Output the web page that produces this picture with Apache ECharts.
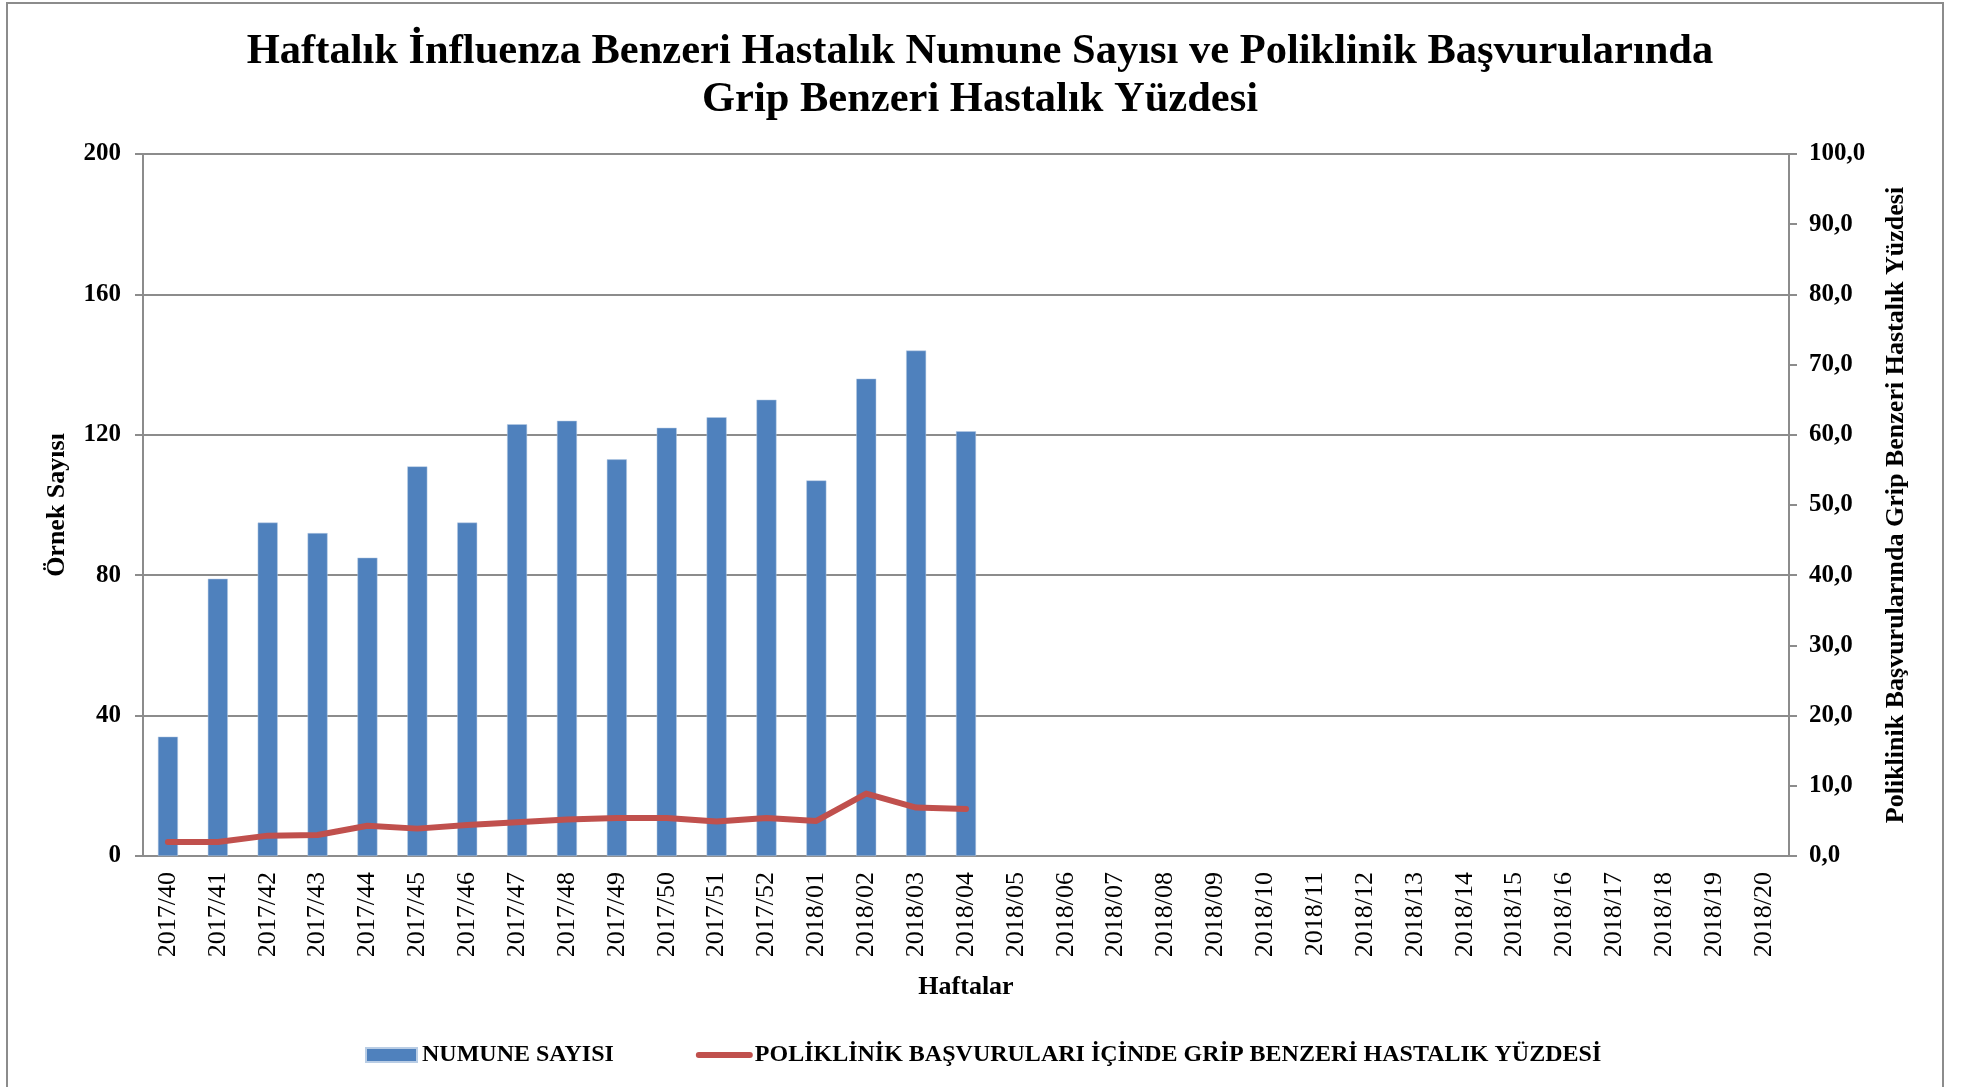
<!DOCTYPE html>
<html>
<head>
<meta charset="utf-8">
<script src="https://cdn.jsdelivr.net/npm/echarts@6/dist/echarts.min.js"></script>
<style>
  html, body { margin: 0; padding: 0; background: #fff; }
  #chart { width: 1966px; height: 1087px; }
</style>
</head>
<body>
<div id="chart"></div>
<script>
const weeks = [
    '2017/40', '2017/41', '2017/42', '2017/43', '2017/44', '2017/45', '2017/46',
    '2017/47', '2017/48', '2017/49', '2017/50', '2017/51', '2017/52',
    '2018/01', '2018/02', '2018/03', '2018/04', '2018/05', '2018/06', '2018/07',
    '2018/08', '2018/09', '2018/10', '2018/11', '2018/12', '2018/13', '2018/14',
    '2018/15', '2018/16', '2018/17', '2018/18', '2018/19', '2018/20'
];
// numune sayisi (sol eksen)
const sampleCounts = [34, 79, 95, 92, 85, 111, 95, 123, 124, 113, 122, 125, 130, 107, 136, 144, 121];
// GBH yuzdesi (sag eksen)
const ililPercent = [2.0, 2.0, 2.9, 3.0, 4.3, 3.9, 4.4, 4.8, 5.2, 5.4, 5.4, 4.9, 5.4, 5.0, 8.9, 6.9, 6.7];

const serif = "'Liberation Serif', 'Times New Roman', serif";
const gray = '#8c8c8c';

const chart = echarts.init(document.getElementById('chart'));
const option = {
    animation: false,
    title: {
        text: 'Haftalık İnfluenza Benzeri Hastalık Numune Sayısı ve Poliklinik Başvurularında\nGrip Benzeri Hastalık Yüzdesi',
        left: 975,
        textAlign: 'center',
        top: 23,
        textStyle: {
            fontFamily: serif,
            fontWeight: 'bold',
            fontSize: 42.5,
            lineHeight: 48,
            color: '#000'
        }
    },
    legend: {
        left: 360,
        top: 1038,
        itemGap: 82,
        itemWidth: 51,
        itemHeight: 14,
        textStyle: {
            fontFamily: serif,
            fontWeight: 'bold',
            fontSize: 24,
            color: '#000'
        },
        data: [
            { name: 'NUMUNE SAYISI', icon: 'rect' },
            {
                name: 'POLİKLİNİK BAŞVURULARI İÇİNDE GRİP BENZERİ HASTALIK YÜZDESİ',
                itemStyle: { opacity: 0 },
                lineStyle: { width: 6, cap: 'round' }
            }
        ]
    },
    grid: {
        left: 143,
        right: 1966 - 1789,
        top: 154,
        bottom: 1087 - 856
    },
    graphic: [{
        type: 'rect',
        shape: { x: 7, y: 3, width: 1936, height: 1100 },
        style: { fill: 'none', stroke: gray, lineWidth: 2 },
        silent: true
    }],
    xAxis: {
        type: 'category',
        data: weeks,
        name: 'Haftalar',
        nameLocation: 'middle',
        nameGap: 118,
        nameTextStyle: {
            fontFamily: serif,
            fontWeight: 'bold',
            fontSize: 26,
            color: '#000'
        },
        axisLine: { lineStyle: { color: gray, width: 2 } },
        axisTick: { show: false },
        axisLabel: {
            rotate: 90,
            interval: 0,
            margin: 16,
            fontFamily: serif,
            fontSize: 26,
            color: '#000'
        }
    },
    yAxis: [
        {
            type: 'value',
            min: 0,
            max: 200,
            interval: 40,
            name: 'Örnek Sayısı',
            nameLocation: 'middle',
            nameGap: 73,
            nameTextStyle: {
                fontFamily: serif,
                fontWeight: 'bold',
                fontSize: 26,
                color: '#000'
            },
            axisLine: { show: true, lineStyle: { color: gray, width: 2 } },
            axisTick: { show: true, inside: false, length: 8, lineStyle: { color: gray, width: 2 } },
            axisLabel: {
                margin: 22,
                fontFamily: serif,
                fontWeight: 'bold',
                fontSize: 25,
                color: '#000'
            },
            splitLine: { show: true, lineStyle: { color: gray, width: 2 } }
        },
        {
            type: 'value',
            min: 0,
            max: 100,
            interval: 10,
            name: 'Poliklinik Başvurularında Grip Benzeri Hastalık Yüzdesi',
            nameLocation: 'middle',
            nameGap: 94,
            nameRotate: 90,
            nameTextStyle: {
                fontFamily: serif,
                fontWeight: 'bold',
                fontSize: 26,
                color: '#000'
            },
            axisLine: { show: true, lineStyle: { color: gray, width: 2 } },
            axisTick: { show: true, length: 8, lineStyle: { color: gray, width: 2 } },
            axisLabel: {
                margin: 20,
                fontFamily: serif,
                fontWeight: 'bold',
                fontSize: 25,
                color: '#000',
                formatter: function (v) {
                    return v.toFixed(1).replace('.', ',');
                }
            },
            splitLine: { show: false }
        }
    ],
    series: [
        {
            name: 'NUMUNE SAYISI',
            type: 'bar',
            yAxisIndex: 0,
            barWidth: 20,
            itemStyle: { color: '#4f81bd', borderColor: '#b9cde5', borderWidth: 0.5 },
            data: sampleCounts
        },
        {
            name: 'POLİKLİNİK BAŞVURULARI İÇİNDE GRİP BENZERİ HASTALIK YÜZDESİ',
            type: 'line',
            yAxisIndex: 1,
            symbol: 'none',
            lineStyle: { color: '#c0504d', width: 6, cap: 'round', join: 'round' },
            itemStyle: { color: '#c0504d' },
            data: ililPercent
        }
    ]
};
chart.setOption(option);

window.addEventListener('resize', function () {
    chart.resize();
});
</script>
</body>
</html>
